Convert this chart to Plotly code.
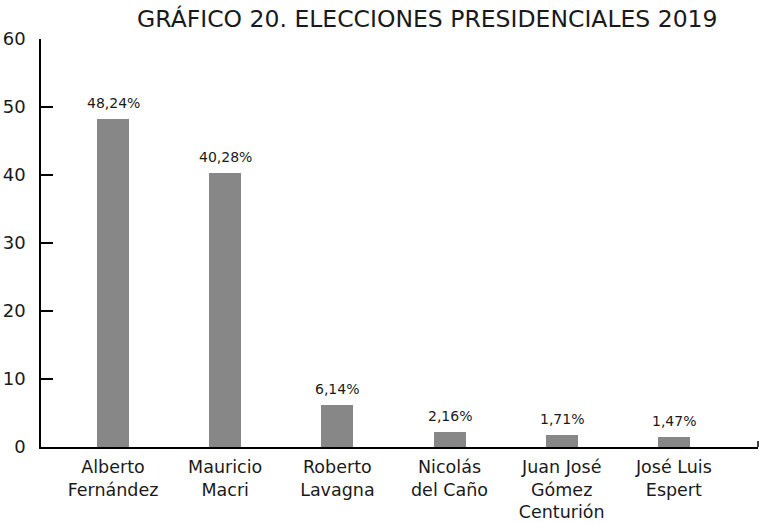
import plotly.graph_objects as go

# Presidential election 2019 results (% of votes)
candidates = ["Alberto<br>Fernández", "Mauricio<br>Macri", "Roberto<br>Lavagna",
              "Nicolás<br>del Caño", "Juan José<br>Gómez<br>Centurión", "José Luis<br>Espert"]
votes = [48.24, 40.28, 6.14, 2.16, 1.71, 1.47]
y_ticks = [0, 10, 20, 30, 40, 50, 60]

FONT = "DejaVu Sans"
TEXT = "#1a1a1a"
BAR = "#878787"

fig = go.Figure()
fig.add_trace(go.Bar(
    x=list(range(len(candidates))),
    y=votes,
    width=0.285,
    marker=dict(color=BAR, line=dict(width=0)),
    hoverinfo="skip",
))

for i, v in enumerate(votes):
    fig.add_annotation(
        x=i, y=v, xref="x", yref="y",
        text=f"{v:.2f}%".replace(".", ","),
        showarrow=False, yanchor="bottom", yshift=6,
        font=dict(family=FONT, size=14, color=TEXT),
    )

# short end mark on the right of the category axis
fig.add_shape(type="line", xref="paper", yref="y",
              x0=1, x1=1, y0=0, y1=0.9,
              line=dict(color="black", width=1.5))

fig.update_layout(
    width=759, height=523,
    margin=dict(l=41, r=1, t=39, b=76),
    paper_bgcolor="white", plot_bgcolor="white",
    showlegend=False,
    title=dict(
        text="GRÁFICO 20. ELECCIONES PRESIDENCIALES 2019",
        x=0.563, xanchor="center", y=0.98, yanchor="top",
        font=dict(family=FONT, size=23.5, color=TEXT),
    ),
    xaxis=dict(
        range=[-0.642, 5.75],
        tickmode="array", tickvals=list(range(len(candidates))), ticktext=candidates,
        showline=True, linecolor="black", linewidth=1.5,
        ticks="", showgrid=False, zeroline=False,
        ticklabelstandoff=3,
        tickfont=dict(family=FONT, size=17.5, color=TEXT),
    ),
    yaxis=dict(
        range=[0, 60],
        tickmode="array", tickvals=y_ticks,
        showline=True, linecolor="black", linewidth=1.5,
        ticks="inside", ticklen=12, tickwidth=1.5, tickcolor="black",
        showgrid=False, zeroline=False,
        ticklabelstandoff=10,
        tickfont=dict(family=FONT, size=18, color=TEXT),
    ),
    bargap=0,
)

fig.write_html("out.html")
